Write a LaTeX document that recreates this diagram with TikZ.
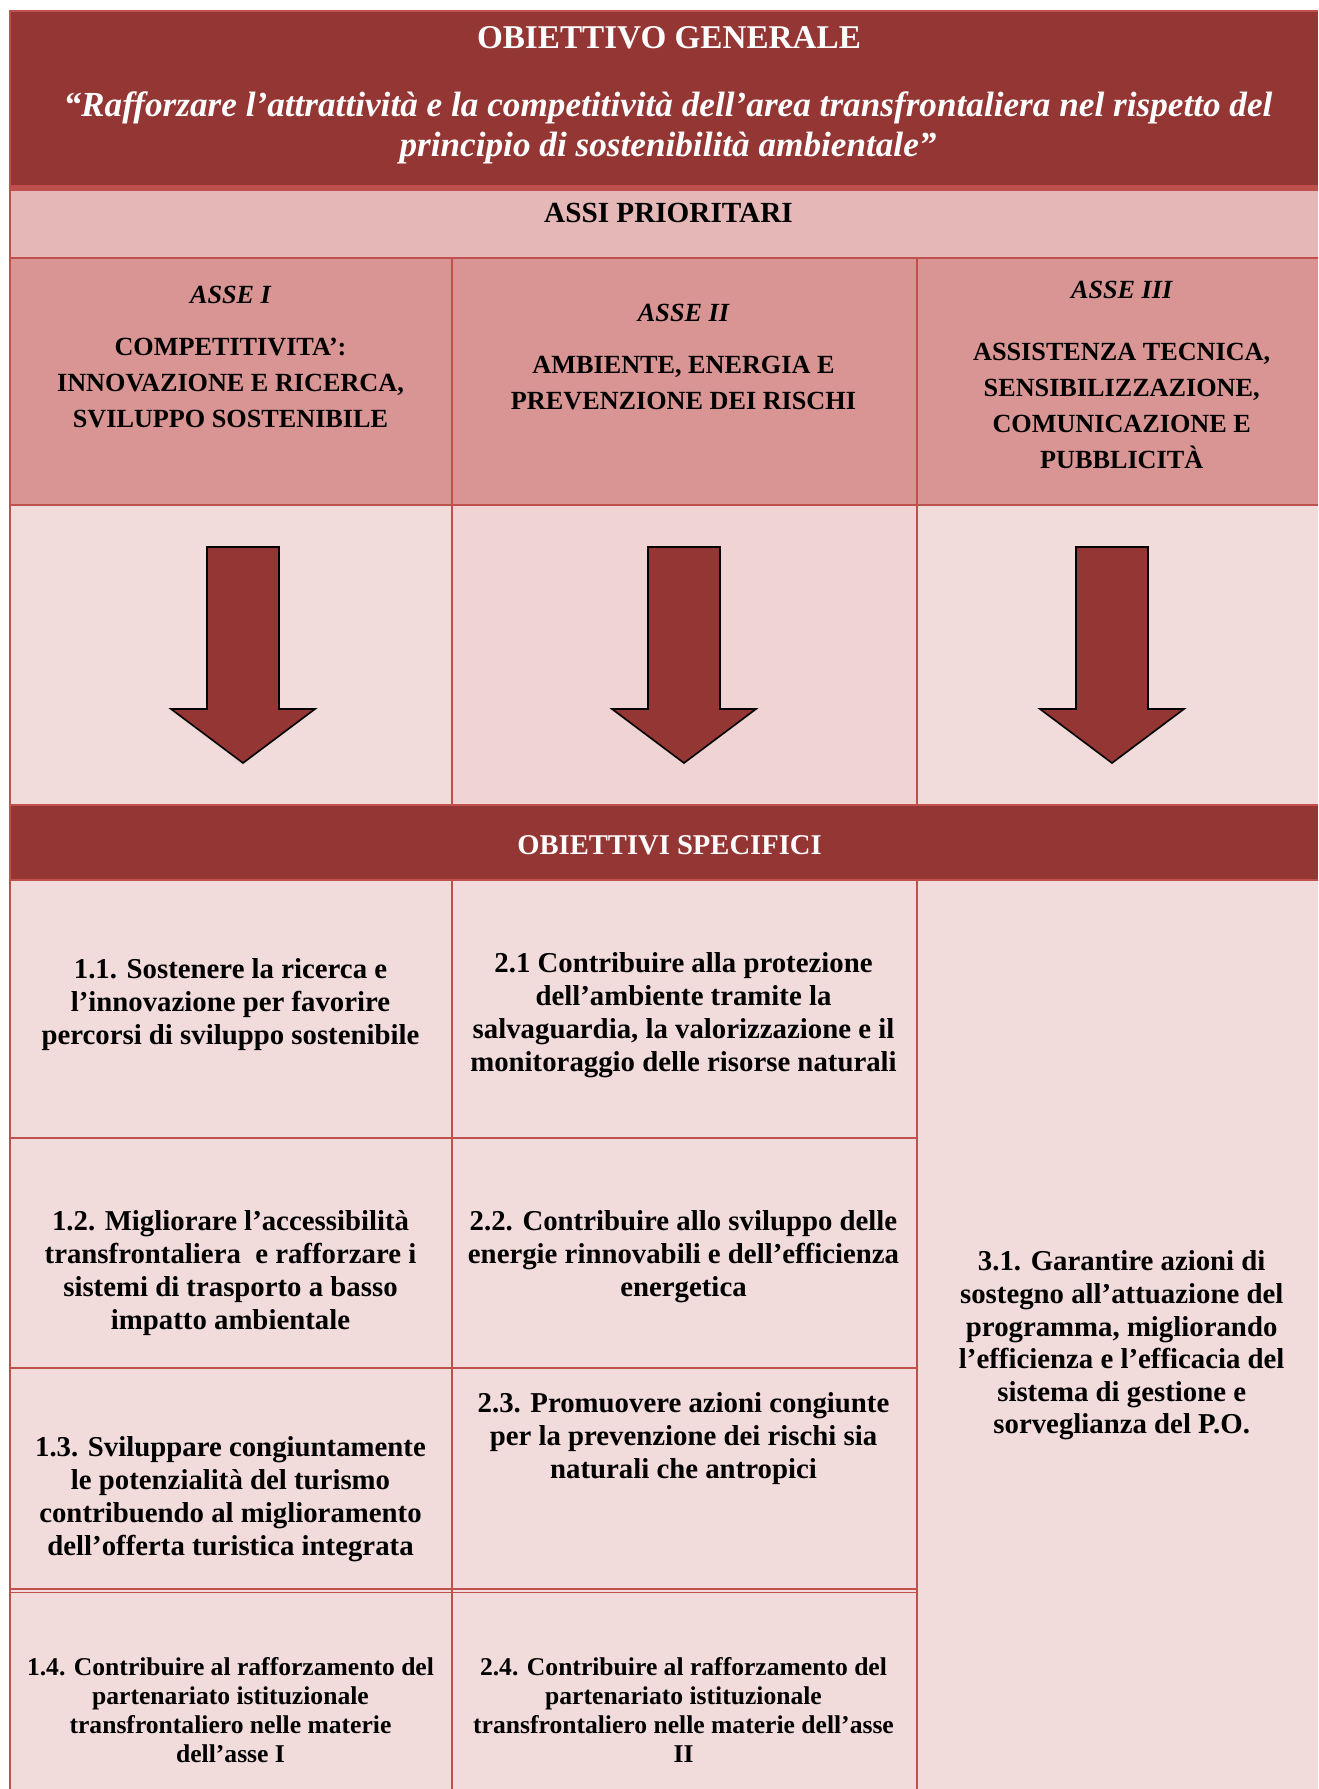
\documentclass[tikz,border=0pt]{standalone}
\usepackage{fontspec}
\setmainfont{Liberation Serif}
\definecolor{dkred}{HTML}{943634}
\definecolor{brd}{HTML}{C0504D}
\definecolor{band}{HTML}{E5B8B7}
\definecolor{axisc}{HTML}{D99594}
\definecolor{cellc}{HTML}{F2DBDB}
\definecolor{cellb}{HTML}{F0D4D4}
\begin{document}
\begin{tikzpicture}[x=0.5pt,y=-0.5pt,
  rule/.style={draw=brd,line width=1pt},
  thinrule/.style={draw=brd,line width=0.6pt},
  arrowshape/.style={fill=dkred,draw=black,line width=0.8pt,line join=miter},
  whitehead/.style={text=white,font=\bfseries\fontsize{16.6}{20}\selectfont,inner sep=0pt},
  quotetxt/.style={text=white,align=center,inner sep=0pt,font=\bfseries\itshape\fontsize{17.6}{20}\selectfont},
  bandtxt/.style={font=\bfseries\fontsize{14.6}{17}\selectfont,inner sep=0pt},
  assetag/.style={font=\bfseries\itshape\fontsize{13.1}{18}\selectfont,inner sep=0pt},
  assetitle/.style={align=center,font=\bfseries\fontsize{13.1}{18}\selectfont,inner sep=0pt},
  goal/.style={align=center,font=\bfseries\fontsize{14.4}{16.5}\selectfont,inner sep=0pt},
  goalsmall/.style={align=center,font=\bfseries\fontsize{12.8}{14.5}\selectfont,inner sep=0pt},
]
\useasboundingbox (0,0) rectangle (1318,1789);
\fill[white] (0,0) rectangle (1318,1789);
% fills
\fill[dkred] (9,10) rectangle (1318,186);
\fill[brd] (9,185) rectangle (1318,191);
\fill[band] (9,191) rectangle (1318,258);
\fill[axisc] (9,258) rectangle (1318,505);
\fill[cellc] (9,505) rectangle (1318,805);
\fill[cellb] (452,505) rectangle (917,805);
\fill[dkred] (9,805) rectangle (1318,880);
\fill[cellc] (9,880) rectangle (1318,1789);
% rules
\draw[rule] (9,11) -- (1318,11);
\draw[rule,line width=1.25pt] (10,10) -- (10,1789);
\draw[rule,line width=1.25pt] (9,258) -- (1318,258);
\draw[rule] (9,505) -- (1318,505);
\draw[rule,line width=1.25pt] (9,805) -- (1318,805);
\draw[rule,line width=1.25pt] (9,880) -- (1318,880);
\draw[rule] (452,258) -- (452,805);
\draw[rule] (452,880) -- (452,1789);
\draw[rule,line width=1.4pt] (917,258) -- (917,805);
\draw[rule,line width=1.4pt] (917,880) -- (917,1789);
\draw[rule] (10,1138) -- (917,1138);
\draw[rule] (10,1368) -- (917,1368);
\draw[thinrule] (10,1589) -- (917,1589);
\draw[thinrule] (10,1592.5) -- (917,1592.5);
% arrows
\draw[arrowshape] (207,547) -- (279,547) -- (279,709) -- (315,709) -- (243,763) -- (171,709) -- (207,709) -- cycle;
\draw[arrowshape] (648,547) -- (720,547) -- (720,709) -- (756,709) -- (684,763) -- (612,709) -- (648,709) -- cycle;
\draw[arrowshape] (1076,547) -- (1148,547) -- (1148,709) -- (1184,709) -- (1112,763) -- (1040,709) -- (1076,709) -- cycle;
% texts
\node[whitehead] (og) at (669,38) {OBIETTIVO GENERALE};
\node[quotetxt] (quote) at (668,128) {“Rafforzare l’attrattività e la competitività dell’area transfrontaliera nel rispetto del\\principio di sostenibilità ambientale”};
\node[bandtxt] (assi) at (668.5,213) {ASSI PRIORITARI};
\node[assetag] (a1) at (230.5,295) {ASSE I};
\node[assetitle] (t1) at (230.5,382.7) {COMPETITIVITA’:\\INNOVAZIONE E RICERCA,\\SVILUPPO SOSTENIBILE};
\node[assetag] (a2) at (683.5,312.5) {ASSE II};
\node[assetitle] (t2) at (683.5,382.8) {AMBIENTE, ENERGIA E\\PREVENZIONE DEI RISCHI};
\node[assetag] (a3) at (1121.7,289.5) {ASSE III};
\node[assetitle] (t3) at (1121.7,406) {ASSISTENZA TECNICA,\\SENSIBILIZZAZIONE,\\COMUNICAZIONE E\\PUBBLICITÀ};
\node[whitehead,font=\bfseries\fontsize{14.3}{17}\selectfont] (os) at (669.5,845) {OBIETTIVI SPECIFICI};
\node[goal] (g11) at (230.5,1005) {1.1. Sostenere la ricerca e\\l’innovazione per favorire\\percorsi di sviluppo sostenibile};
\node[goal] (g21) at (683.5,1015.5) {2.1 Contribuire alla protezione\\dell’ambiente tramite la\\salvaguardia, la valorizzazione e il\\monitoraggio delle risorse naturali};
\node[goal] (g12) at (230.5,1273.5) {1.2. Migliorare l’accessibilità\\transfrontaliera \ e rafforzare i\\sistemi di trasporto a basso\\impatto ambientale};
\node[goal] (g22) at (683.5,1257) {2.2. Contribuire allo sviluppo delle\\energie rinnovabili e dell’efficienza\\energetica};
\node[goal] (g13) at (230.5,1499.5) {1.3. Sviluppare congiuntamente\\le potenzialità del turismo\\contribuendo al miglioramento\\dell’offerta turistica integrata};
\node[goal] (g23) at (683.5,1439) {2.3. Promuovere azioni congiunte\\per la prevenzione dei rischi sia\\naturali che antropici};
\node[goalsmall] (g14) at (230.5,1710) {1.4. Contribuire al rafforzamento del\\partenariato istituzionale\\transfrontaliero nelle materie\\dell’asse I};
\node[goalsmall] (g24) at (683.5,1710) {2.4. Contribuire al rafforzamento del\\partenariato istituzionale\\transfrontaliero nelle materie dell’asse\\II};
\node[goal,font=\bfseries\fontsize{14.4}{16.3}\selectfont] (g31) at (1121.7,1345.5) {3.1. Garantire azioni di\\sostegno all’attuazione del\\programma, migliorando\\l’efficienza e l’efficacia del\\sistema di gestione e\\sorveglianza del P.O.};
\end{tikzpicture}
\end{document}
